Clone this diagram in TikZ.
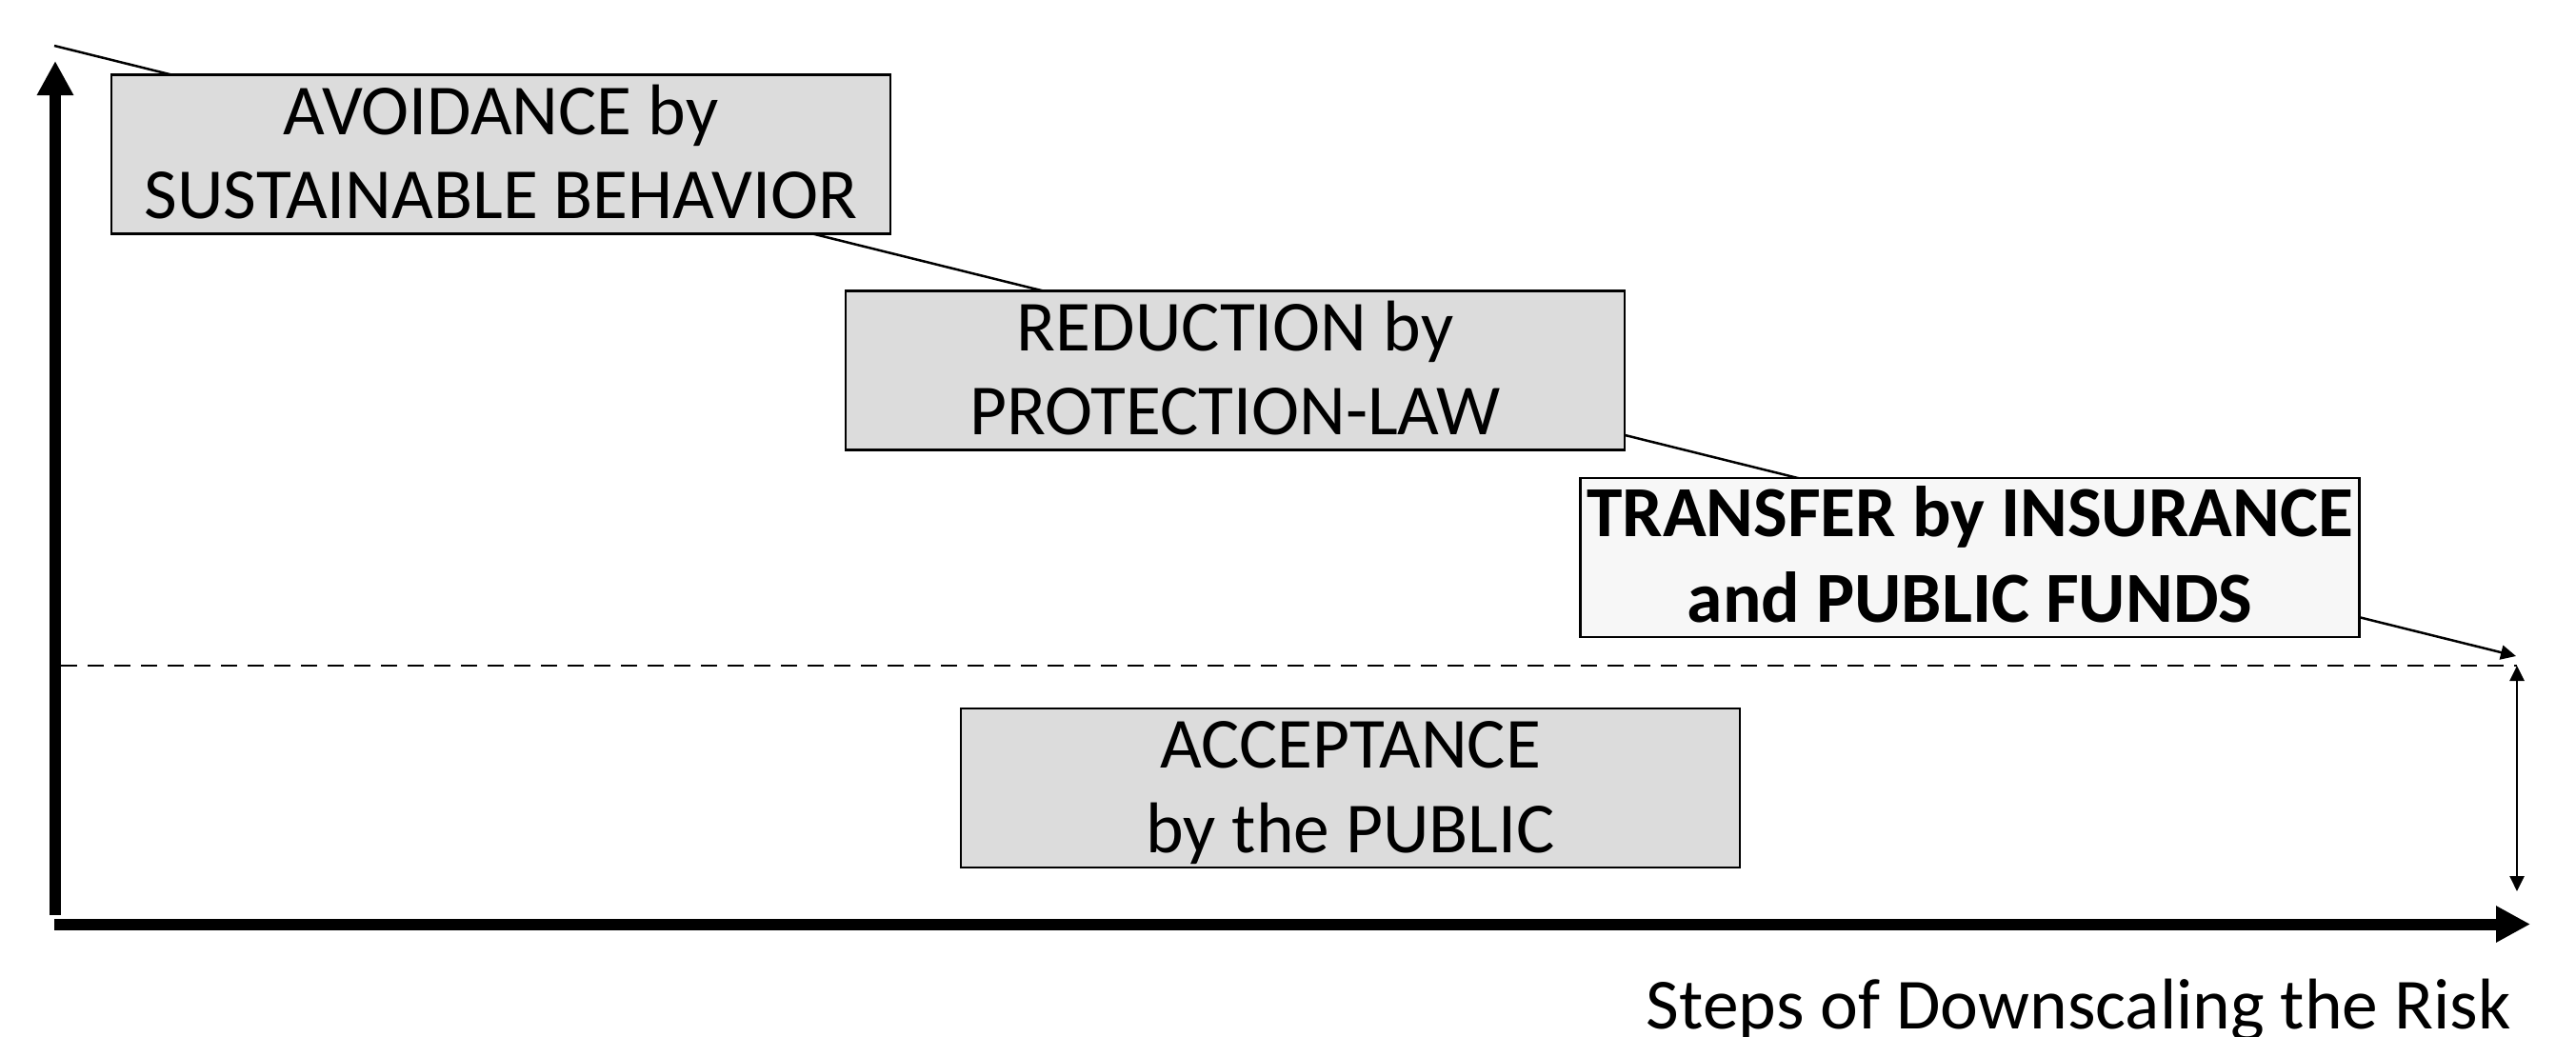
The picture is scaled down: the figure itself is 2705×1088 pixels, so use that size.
\documentclass[tikz,border=0pt]{standalone}
\usepackage{fontspec}
\setmainfont{Carlito}
\usetikzlibrary{arrows.meta}
\definecolor{boxgray}{RGB}{220,220,220}
\definecolor{boxlight}{RGB}{247,247,247}
\tikzset{smalltip/.tip={Triangle[length=16pt,width=15pt]},
  bigtip/.tip={Triangle[length=36pt,width=36pt]}}
\begin{document}
\begin{tikzpicture}[x=1pt,y=-1pt,
  box/.style={draw=black, line width=2.5pt, fill=boxgray, minimum width=818pt, minimum height=167pt, inner sep=0pt},
  txt/.style={font=\fontsize{75.5}{88}\selectfont, inner sep=0pt, anchor=base},
  boldtxt/.style={txt, font=\fontsize{75.5}{88}\selectfont\bfseries},
  axis/.style={line width=12pt, -{bigtip}},
  thinline/.style={line width=2.5pt}]
\useasboundingbox[fill=white] (0,0) rectangle (2705,1088);
% coordinates
\coordinate (dstart) at (57,48);
\coordinate (dend) at (2642,689);
\coordinate (dashL) at (64,699);
\coordinate (dashR) at (2643,699);
\coordinate (vbot) at (2643,936);
\coordinate (ybot) at (58,961);
\coordinate (ytop) at (58,64);
\coordinate (xleft) at (57,970.5);
\coordinate (xright) at (2657,970.5);
% diagonal line
\draw[thinline, -{smalltip}] (dstart) -- (dend);
% dashed level
\draw[thinline, dash pattern=on 17pt off 11pt] (dashL) -- (dashR);
\draw[thinline, {smalltip}-{smalltip}] (dashR) -- (vbot);
% axes
\draw[axis] (ybot) -- (ytop);
\draw[axis] (xleft) -- (xright);
% boxes
\node[box] (avoid) at (526,162) {};
\node[box] (reduce) at (1297,389) {};
\node[box, fill=boxlight] (transfer) at (2068.5,585.5) {};
\node[box] (accept) at (1418,827.5) {};
% texts
\node[txt] (avoid1) at ([yshift=-64pt]avoid.north) {AVOIDANCE by};
\node[txt] (avoid2) at ([yshift=-152pt]avoid.north) {SUSTAINABLE BEHAVIOR};
\node[txt] (reduce1) at ([yshift=-64pt]reduce.north) {REDUCTION by};
\node[txt] (reduce2) at ([yshift=-152pt]reduce.north) {PROTECTION-LAW};
\node[boldtxt] (transfer1) at ([yshift=-63pt]transfer.north) {TRANSFER by INSURANCE};
\node[boldtxt] (transfer2) at ([yshift=-153pt]transfer.north) {and PUBLIC FUNDS};
\node[txt] (accept1) at ([yshift=-64pt]accept.north) {ACCEPTANCE};
\node[txt] (accept2) at ([yshift=-153pt]accept.north) {by the PUBLIC};
\node[txt, anchor=base east] (xlabel) at (2637,1080) {Steps of Downscaling the Risk};
\end{tikzpicture}
\end{document}
